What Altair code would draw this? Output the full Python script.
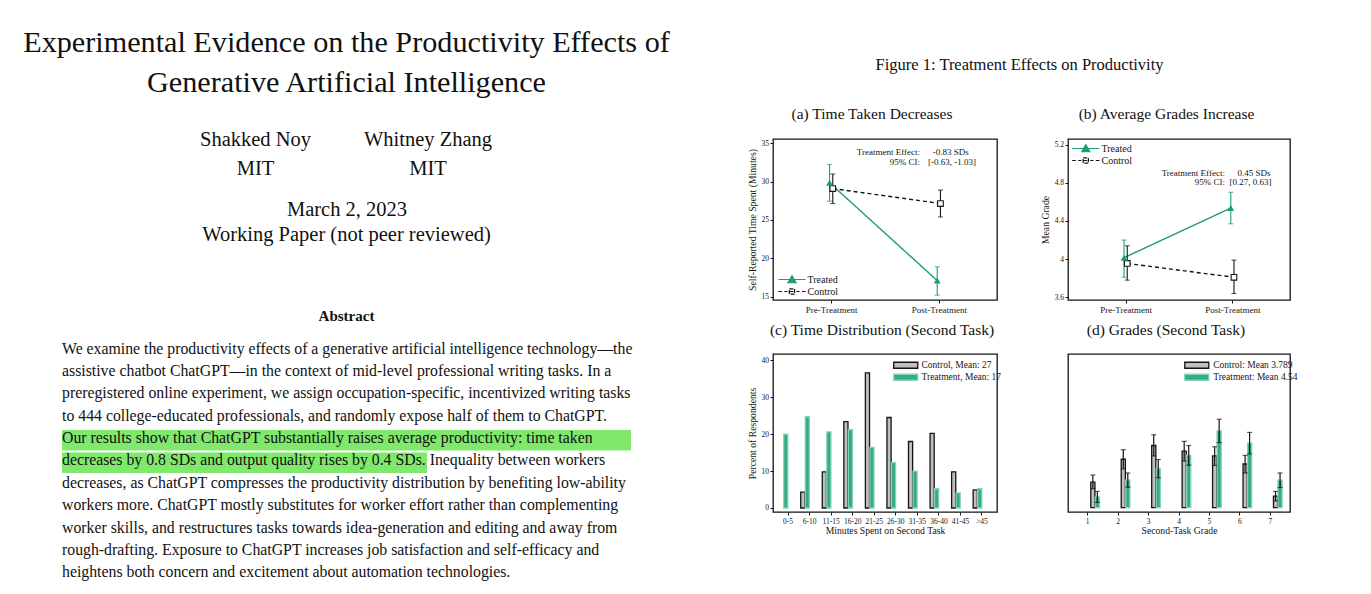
import altair as alt
import pandas as pd

# ---------------- data ----------------
periods = ["Pre-Treatment", "Post-Treatment"]
series_ab = ["Treated", "Control"]

time_treated = [29.86, 17.10]
time_treated_lo = [27.45, 15.20]
time_treated_hi = [32.25, 18.90]
time_control = [29.10, 27.15]
time_control_lo = [27.15, 25.40]
time_control_hi = [31.00, 28.90]

grade_treated = [4.015, 4.535]
grade_treated_lo = [3.81, 4.37]
grade_treated_hi = [4.20, 4.70]
grade_control = [3.955, 3.81]
grade_control_lo = [3.78, 3.64]
grade_control_hi = [4.14, 3.99]

time_bins = ["0-5", "6-10", "11-15", "16-20", "21-25", "26-30", "31-35", "36-40", "41-45", ">45"]
series_c = ["Control, Mean: 27", "Treatment, Mean: 17"]
time_dist_control = [0.0, 4.3, 9.8, 23.4, 36.6, 24.5, 18.0, 20.2, 9.8, 4.9]
time_dist_treatment = [20.0, 24.7, 20.6, 21.2, 16.4, 12.3, 10.0, 5.2, 4.1, 5.2]

grade_bins = ["1", "2", "3", "4", "5", "6", "7"]
series_d = ["Control: Mean 3.789", "Treatment: Mean 4.54"]
grade_dist_control = [8.5, 16.2, 20.8, 18.9, 17.3, 14.6, 3.8]
grade_dist_control_lo = [6.3, 13.0, 17.3, 15.6, 14.1, 11.6, 2.2]
grade_dist_control_hi = [10.9, 19.4, 24.4, 22.2, 20.4, 17.5, 5.4]
grade_dist_treatment = [3.6, 9.2, 13.1, 17.5, 25.7, 21.6, 9.2]
grade_dist_treatment_lo = [1.7, 6.8, 10.0, 14.2, 21.8, 18.0, 6.7]
grade_dist_treatment_hi = [5.4, 11.6, 16.1, 20.8, 29.6, 25.2, 11.6]

a_note_labels = ["Treatment Effect:", "95% CI:"]
a_note_values = ["-0.83 SDs", "[-0.63, -1.03]"]
b_note_labels = ["Treatment Effect:", "95% CI:"]
b_note_values = ["0.45 SDs", "[0.27, 0.63]"]

paper_title = ["Experimental Evidence on the Productivity Effects of",
               "Generative Artificial Intelligence"]
authors = ["Shakked Noy", "Whitney Zhang"]
affiliations = ["MIT", "MIT"]
date_lines = ["March 2, 2023", "Working Paper (not peer reviewed)"]
abstract_heading = "Abstract"
abstract_lines = [
    "We examine the productivity effects of a generative artificial intelligence technology\u2014the",
    "assistive chatbot ChatGPT\u2014in the context of mid-level professional writing tasks.  In a",
    "preregistered online experiment, we assign occupation-specific, incentivized writing tasks",
    "to 444 college-educated professionals, and randomly expose half of them to ChatGPT.",
    "Our results show that ChatGPT substantially raises average productivity:  time taken",
    "decreases by 0.8 SDs and output quality rises by 0.4 SDs.  Inequality between workers",
    "decreases, as ChatGPT compresses the productivity distribution by benefiting low-ability",
    "workers more. ChatGPT mostly substitutes for worker effort rather than complementing",
    "worker skills, and restructures tasks towards idea-generation and editing and away from",
    "rough-drafting.  Exposure to ChatGPT increases job satisfaction and self-efficacy and",
    "heightens both concern and excitement about automation technologies.",
]
figure_title = "Figure 1: Treatment Effects on Productivity"
panel_titles = ["(a) Time Taken Decreases", "(b) Average Grades Increase",
                "(c) Time Distribution (Second Task)", "(d) Grades (Second Task)"]

# ---------------- style ----------------
FONT = "Liberation Serif"
GREEN = "#1b9e77"
INK = "#151515"
HILITE = "#80e86c"
PATH_TREATED = "M-3.4,0L3.4,0M0,-0.95L1,0.8L-1,0.8Z"
# open square drawn as separate strokes (no enclosed area), with dashed line through it
PATH_CONTROL = ("M-3.4,0L-2.5,0M-1.9,0L-1.1,0"
                "M-0.65,-0.65L0.65,-0.65M0.65,-0.65L0.65,0.65M0.65,0.65L-0.65,0.65M-0.65,0.65L-0.65,-0.65"
                "M-0.65,0L0.65,0M1.1,0L1.9,0M2.5,0L3.4,0")
PATH_RECT = "M-4,-1L4,-1L4,1L-4,1Z"


def prepost_df(t, tlo, thi, c, clo, chi):
    rows = []
    for i, p in enumerate(periods):
        rows.append({"period": p, "group": series_ab[0], "mean": t[i], "lo": tlo[i], "hi": thi[i]})
        rows.append({"period": p, "group": series_ab[1], "mean": c[i], "lo": clo[i], "hi": chi[i]})
    return pd.DataFrame(rows)


def prepost_panel(df, ydom, yvals, yfmt, ytitle, labels, values, lab_x, val_x, note_y,
                  leg_x, leg_y, leg_lo, width, height):
    xscale = alt.Scale(domain=[0.46, 2.54], nice=False, zero=False)
    yscale = alt.Scale(domain=ydom, nice=False, zero=False)
    cscale = alt.Scale(domain=series_ab, range=[GREEN, INK])
    xaxis = alt.Axis(values=[1, 2], title=None, labelFontSize=9, tickSize=3, labelPadding=2,
                     labelExpr=f"datum.value == 1 ? '{periods[0]}' : '{periods[1]}'")
    yaxis = alt.Axis(values=yvals, format=yfmt, title=ytitle, labelFontSize=7.5,
                     tickSize=3, labelPadding=1.5, titleFontSize=9.7, titlePadding=4)

    def X(f):
        return alt.X(f, scale=xscale, axis=xaxis, title=None)

    def Y(f):
        return alt.Y(f, scale=yscale, axis=yaxis, title=ytitle)

    base = alt.Chart(df).transform_calculate(
        xpos=f"(datum.period == '{periods[0]}' ? 1 : 2) + (datum.group == '{series_ab[0]}' ? -0.015 : 0.015)"
    )
    leg = alt.Legend(title=None, orient="none", legendX=leg_x, legendY=leg_y, labelFont=FONT,
                     labelFontSize=10, labelColor=INK, symbolSize=64, symbolStrokeWidth=1.2,
                     symbolOpacity=1, symbolFillColor="white", symbolOffset=8.5, labelOffset=leg_lo,
                     padding=0, rowPadding=1)
    key = base.mark_point(size=64).encode(
        x=X("xpos:Q"), y=Y("mean:Q"),
        color=alt.Color("group:N", scale=cscale, legend=leg),
        fill=alt.Fill("group:N", scale=alt.Scale(domain=series_ab, range=[GREEN, "white"]), legend=leg),
        shape=alt.Shape("group:N", scale=alt.Scale(domain=series_ab, range=[PATH_TREATED, PATH_CONTROL]),
                        legend=leg),
        opacity=alt.value(0))

    col = alt.Color("group:N", scale=cscale, legend=leg)
    line = base.mark_line(strokeWidth=1.4).encode(
        x=X("xpos:Q"), y=Y("mean:Q"), color=col,
        strokeDash=alt.StrokeDash("group:N", scale=alt.Scale(domain=series_ab, range=[[1, 0], [4, 3]]),
                                  legend=None))
    err = base.mark_rule(strokeWidth=1.1).encode(
        x=X("xpos:Q"), y=Y("lo:Q"), y2="hi:Q", color=col)
    cap_lo = base.mark_tick(orient="horizontal", size=5, thickness=1.1).encode(
        x=X("xpos:Q"), y=Y("lo:Q"), color=col)
    cap_hi = base.mark_tick(orient="horizontal", size=5, thickness=1.1).encode(
        x=X("xpos:Q"), y=Y("hi:Q"), color=col)
    pt_t = base.transform_filter(f"datum.group == '{series_ab[0]}'").mark_point(
        shape="triangle-up", filled=True, size=48, color=GREEN, opacity=1).encode(
        x=X("xpos:Q"), y=Y("mean:Q"))
    pt_c = base.transform_filter(f"datum.group == '{series_ab[1]}'").mark_point(
        shape="square", size=32, fill="white", stroke=INK, strokeWidth=1.1, opacity=1).encode(
        x=X("xpos:Q"), y=Y("mean:Q"))

    notes = pd.DataFrame({"lab": labels, "val": values, "lx": lab_x, "vx": val_x, "ny": note_y})
    note_l = alt.Chart(notes).mark_text(align="right", baseline="middle", fontSize=9, color=INK).encode(
        x=X("lx:Q"), y=Y("ny:Q"), text="lab:N")
    note_v = alt.Chart(notes).mark_text(align="left", baseline="middle", fontSize=9, color=INK).encode(
        x=X("vx:Q"), y=Y("ny:Q"), text="val:N")

    return alt.layer(key, line, err, cap_lo, cap_hi, pt_c, pt_t, note_l, note_v).properties(
        width=width, height=height, view=alt.ViewBackground(stroke=INK, strokeWidth=1.3))


def dist_panel(bins, series, ctrl, trt, ydom, yvals, xtitle, ytitle, leg_x, leg_y, leg_lo,
               p_in, p_out, width, height, ctrl_lo=None, ctrl_hi=None, trt_lo=None, trt_hi=None):
    rows = []
    for i, b in enumerate(bins):
        r1 = {"bin": b, "group": series[0], "value": ctrl[i]}
        r2 = {"bin": b, "group": series[1], "value": trt[i]}
        if ctrl_lo is not None:
            r1.update(lo=ctrl_lo[i], hi=ctrl_hi[i])
            r2.update(lo=trt_lo[i], hi=trt_hi[i])
        rows += [r1, r2]
    df = pd.DataFrame(rows)
    yscale = alt.Scale(domain=ydom, nice=False, zero=False)
    X = alt.X("bin:N", sort=bins, scale=alt.Scale(domain=bins, paddingInner=p_in, paddingOuter=p_out),
              axis=alt.Axis(title=xtitle, labelAngle=0, labelFontSize=7.5, tickSize=3, labelPadding=2,
                            titleFontSize=9.7, titlePadding=1))
    XO = alt.XOffset("group:N", scale=alt.Scale(domain=series, paddingInner=0.08, paddingOuter=0))
    leg = alt.Legend(title=None, orient="none", legendX=leg_x, legendY=leg_y, labelFont=FONT,
                     labelFontSize=9.5, labelColor=INK, symbolType=PATH_RECT, symbolSize=36,
                     symbolStrokeWidth=1.3, symbolFillColor="white", symbolOffset=8,
                     labelOffset=leg_lo, padding=0, rowPadding=0)
    bars = alt.Chart(df).transform_filter("datum.value > 0").mark_bar(strokeWidth=1.3).encode(
        x=X, xOffset=XO,
        y=alt.Y("value:Q", scale=yscale,
                axis=alt.Axis(values=yvals, title=ytitle, labelFontSize=7.5, tickSize=3, labelPadding=1.5,
                              titleFontSize=9.7, titlePadding=4)),
        y2=alt.Y2(datum=0),
        fill=alt.Fill("group:N", scale=alt.Scale(domain=series, range=["#c0c0c0", "#35aa86"]), legend=leg),
        stroke=alt.Stroke("group:N", scale=alt.Scale(domain=series, range=[INK, "#86d4b8"]), legend=leg))
    layers = [bars]
    if ctrl_lo is not None:
        base = alt.Chart(df)
        layers.append(base.mark_rule(color=INK, strokeWidth=1.2).encode(
            x=X, xOffset=XO, y=alt.Y("lo:Q", scale=yscale, axis=None), y2="hi:Q"))
        layers.append(base.mark_tick(orient="horizontal", size=5, thickness=1.2, color=INK).encode(
            x=X, xOffset=XO, y=alt.Y("lo:Q", scale=yscale, axis=None)))
        layers.append(base.mark_tick(orient="horizontal", size=5, thickness=1.2, color=INK).encode(
            x=X, xOffset=XO, y=alt.Y("hi:Q", scale=yscale, axis=None)))
    return alt.layer(*layers).properties(width=width, height=height,
                                         view=alt.ViewBackground(stroke=INK, strokeWidth=1.3))


panel_a = prepost_panel(
    prepost_df(time_treated, time_treated_lo, time_treated_hi, time_control, time_control_lo, time_control_hi),
    [14.57, 35.56], [15, 20, 25, 30, 35], "d", "Self-Reported Time Spent (Minutes)",
    a_note_labels, a_note_values, [1.825, 1.825], [1.943, 1.899], [33.9, 32.52],
    5.5, 135.5, 10.5, 224, 161)
panel_b = prepost_panel(
    prepost_df(grade_treated, grade_treated_lo, grade_treated_hi, grade_control, grade_control_lo, grade_control_hi),
    [3.572, 5.258], [3.6, 4.0, 4.4, 4.8, 5.2], ".1~f", "Mean Grade",
    b_note_labels, b_note_values, [1.93, 1.93], [2.048, 1.973], [4.899, 4.805],
    4.3, 4.5, 10.7, 222, 161)
panel_c = dist_panel(time_bins, series_c, time_dist_control, time_dist_treatment,
                     [-1.09, 41.7], [0, 10, 20, 30, 40], "Minutes Spent on Second Task",
                     "Percent of Respondents", 120, 6.5, 11, 0.18, 0.286, 224, 158)
panel_d = dist_panel(grade_bins, series_d, grade_dist_control, grade_dist_treatment,
                     [-1.5, 51.5], [0, 10, 20, 30, 40, 50], "Second-Task Grade",
                     "Percent of Essay-Grades", 116, 6.5, 11.7, 0.613, 0.452, 222, 158,
                     grade_dist_control_lo, grade_dist_control_hi,
                     grade_dist_treatment_lo, grade_dist_treatment_hi)


# ---------------- page text ----------------
def txt(s, x, y, size, align="center", weight="normal"):
    return alt.Chart(pd.DataFrame({"t": [s]})).mark_text(
        x=x, y=y, fontSize=size, align=align, baseline="middle", font=FONT,
        fontWeight=weight, color="#111111").encode(text="t:N")


def hilite(x1, x2, y1, y2):
    return alt.Chart(pd.DataFrame({"k": [0]})).mark_rect(color=HILITE).encode(
        x=alt.value(x1), x2=alt.value(x2), y=alt.value(y1), y2=alt.value(y2))


DY = -2.8
page_layers = [hilite(62, 631, 427, 447.5), hilite(62, 427, 449.5, 470)]
page_layers += [txt(paper_title[0], 346.5, 43 + DY, 30.2), txt(paper_title[1], 346.5, 83 + DY, 30.2)]
page_layers += [txt(authors[0], 255.5, 140 + DY, 20.5), txt(authors[1], 428, 140 + DY, 20.5)]
page_layers += [txt(affiliations[0], 255.5, 169 + DY, 20.5), txt(affiliations[1], 428, 169 + DY, 20.5)]
page_layers += [txt(date_lines[0], 347, 210 + DY, 20.5), txt(date_lines[1], 346.5, 235 + DY, 20.5)]
page_layers += [txt(abstract_heading, 346.5, 316 + DY, 15, weight="bold")]
for i, line_text in enumerate(abstract_lines):
    page_layers.append(txt(line_text, 62, 348.5 + DY + i * 22.35, 15.8, align="left"))
page_layers += [txt(figure_title, 1019.5, 65 + DY, 16.5)]
page_layers += [txt(panel_titles[0], 872, 114 + DY, 15.5), txt(panel_titles[1], 1166.5, 114 + DY, 15.5),
                txt(panel_titles[2], 882, 330 + DY, 15.5), txt(panel_titles[3], 1166, 330 + DY, 15.5)]
page = alt.layer(*page_layers).properties(width=773, height=594)


def spacer():
    return alt.Chart(pd.DataFrame({"k": [0]})).mark_point(opacity=0).encode(
        x=alt.value(0), y=alt.value(0)).properties(width=10, height=82)


indep = dict(color="independent", fill="independent", stroke="independent",
             shape="independent", strokeDash="independent")
right = alt.concat(spacer(), spacer(), panel_a, panel_b, panel_c, panel_d, columns=2,
                   spacing={"row": 54, "column": 71}, bounds="flush"
                   ).resolve_scale(**indep).resolve_legend(**indep)

chart = alt.hconcat(page, right, spacing=0, bounds="flush").properties(
    padding=0, background="white"
).configure_view(stroke=None).configure_axis(
    labelFont=FONT, titleFont=FONT, labelColor=INK, titleColor=INK, tickColor=INK,
    grid=False, domain=False, titleFontWeight="normal"
).configure_text(font=FONT).configure_legend(labelFont=FONT)

chart.save("out.html", embed_options={"renderer": "svg", "actions": False})
